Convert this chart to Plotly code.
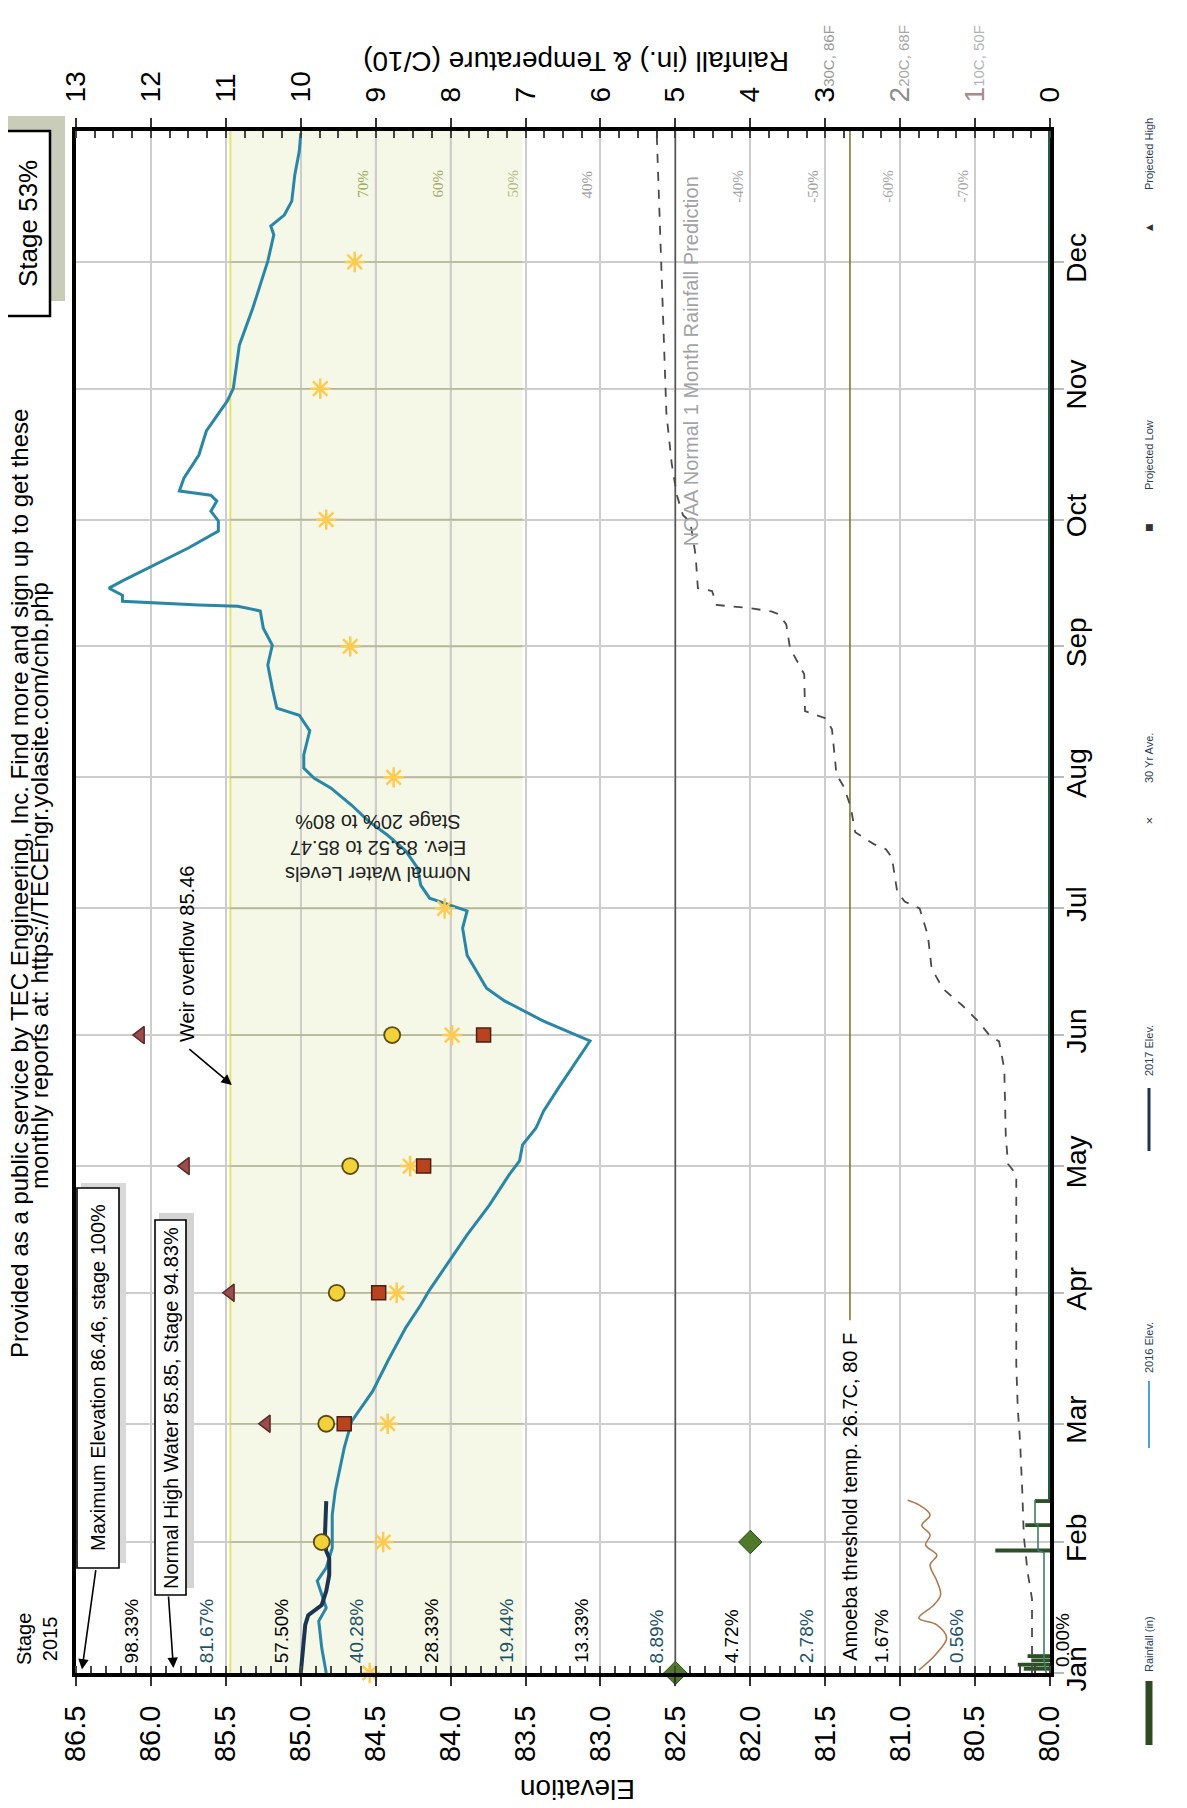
import plotly.graph_objects as go

FONT = "Liberation Sans"
W, H = 1187, 1808
# plot-area pixel box (used only for layout helpers)
PL, PR, PT, PB = 68, 1042, 123, 1665

# ---------------- data ----------------
MONTHS = ['Jan', 'Feb', 'Mar', 'Apr', 'May', 'Jun', 'Jul', 'Aug', 'Sep', 'Oct', 'Nov', 'Dec']
MONTH_START_DAY = [0, 31, 59, 90, 120, 151, 181, 212, 243, 273, 304, 334]

ELEV_TICKS = [80.0, 80.5, 81.0, 81.5, 82.0, 82.5, 83.0, 83.5, 84.0, 84.5, 85.0, 85.5, 86.0, 86.5]
STAGE_ELEV = [80.0, 80.5, 81.0, 81.5, 82.0, 82.5, 83.0, 83.5, 84.0, 84.5, 85.0, 85.5, 86.0]
STAGE_LABELS = ['0.00%', '0.56%', '1.67%', '2.78%', '4.72%', '8.89%', '13.33%', '19.44%',
                '28.33%', '40.28%', '57.50%', '81.67%', '98.33%']

RAIN_TICKS = [0, 1, 2, 3, 4, 5, 6, 7, 8, 9, 10, 11, 12, 13]
RAIN_TICK_TEXT = ['0',
                  "<span style='color:#a88a8a'>1</span><span style='font-size:15px;color:#b4b4b4'>10C, 50F</span>",
                  "<span style='color:#8c8c8c'>2</span><span style='font-size:15px;color:#a8a8a8'>20C, 68F</span>",
                  "3<span style='font-size:15px;color:#9a9a9a'>30C, 86F</span>",
                  '4', '5', '6', '7', '8', '9', '10', '11', '12', '13']
RAIN_PCT_VALUES = [9, 8, 7, 6, 4, 3, 2, 1]
RAIN_PCT_LABELS = ['70%', '60%', '50%', '40%', '-40%', '-50%', '-60%', '-70%']

# 2016 elevation (day of year, ft)
ELEV_2016_DAY = [0, 5.9, 12.3, 15.4, 21.8, 24.9, 29.6, 37.4, 43.1, 53.3, 59.6, 66.7, 73.8, 81.7,
                 87.1, 90.7, 95.9, 103.7, 110.8, 117.9, 121.2, 125.0, 129.0, 133.0, 138.5, 147.2,
                 149.6, 154.3, 159.1, 162.1, 165.2, 169.9, 176.3, 180.4, 183.4, 186.5, 190.5,
                 194.6, 198.3, 201.7, 205.4, 209.5, 211.8, 214.2, 217.3, 223.0, 226.7, 228.4,
                 233.1, 238.6, 243.3, 247.3, 251.4, 252.5, 252.8, 253.7, 255.1, 256.8, 258.5,
                 260.8, 263.9, 266.3, 270.3, 272.7, 275.0, 277.4, 278.8, 279.8, 282.8, 288.3,
                 294.0, 297.0, 301.1, 304.1, 314.3, 323.1, 329.5, 334.2, 340.4, 342.5, 345.1,
                 348.4, 354.6, 360.2, 364.5]
ELEV_2016 = [84.83, 84.86, 84.88, 84.83, 84.89, 84.83, 84.79, 84.79, 84.77, 84.71, 84.66, 84.52,
             84.42, 84.30, 84.20, 84.14, 84.04, 83.89, 83.74, 83.61, 83.54, 83.52, 83.43, 83.38,
             83.28, 83.12, 83.07, 83.38, 83.64, 83.76, 83.81, 83.89, 83.92, 83.89, 84.14, 84.20,
             84.22, 84.30, 84.42, 84.55, 84.66, 84.80, 84.91, 84.98, 84.98, 84.94, 85.01, 85.16,
             85.19, 85.22, 85.19, 85.25, 85.27, 85.42, 85.68, 86.19, 86.19, 86.28, 86.19, 86.06,
             85.88, 85.75, 85.55, 85.55, 85.60, 85.56, 85.60, 85.81, 85.78, 85.68, 85.63, 85.57,
             85.49, 85.45, 85.41, 85.32, 85.26, 85.22, 85.18, 85.20, 85.11, 85.06, 85.04, 85.01,
             85.00]

# 2017 elevation
ELEV_2017_DAY = [0, 3.5, 11.4, 13.7, 16.1, 19.4, 23.2, 27.2, 28.9, 31.2, 40.7]
ELEV_2017 = [85.00, 84.99, 84.97, 84.95, 84.86, 84.83, 84.81, 84.81, 84.83, 84.84, 84.83]

# 2017 water temperature (C/10, rain axis)
TEMP_2017_DAY = [0.7, 4.5, 8.3, 11.4, 13.0, 16.1, 18.5, 21.8, 25.6, 27.9, 30.3, 32.7, 35.0, 37.4, 39.8, 40.9]
TEMP_2017 = [1.75, 1.52, 1.38, 1.51, 1.75, 1.55, 1.46, 1.51, 1.60, 1.51, 1.66, 1.60, 1.71, 1.60, 1.75, 1.90]

# 2016 cumulative rain (rain axis)
RAIN_2016_DAY = [0, 17.5, 24.0, 32.5, 43.0, 55.0, 62.5, 73.0, 118.0, 120.5, 127.0, 143.0, 149.5, 151.0,
                 154.3, 158.0, 162.0, 166.8, 174.6, 181.0, 182.6, 185.0, 193.0, 195.0, 196.2, 199.0,
                 205.0, 209.7, 212.7, 223.4, 226.0, 227.7, 236.4, 242.6, 248.2, 250.6, 251.3, 252.1,
                 252.8, 256.1, 256.8, 264.6, 272.4, 274.1, 278.8, 286.4, 298.2, 364.9]
RAIN_2016 = [0.24, 0.24, 0.30, 0.35, 0.37, 0.40, 0.43, 0.45, 0.45, 0.56, 0.59, 0.61, 0.68, 0.81,
             0.96, 1.17, 1.43, 1.58, 1.63, 1.74, 1.94, 2.04, 2.11, 2.19, 2.35, 2.60, 2.66, 2.75,
             2.85, 2.91, 3.00, 3.27, 3.28, 3.47, 3.52, 3.62, 3.72, 4.03, 4.45, 4.51, 4.70, 4.73,
             4.80, 4.90, 4.98, 5.05, 5.12, 5.25]

# 2017 cumulative rain (rain axis)
RAIN_2017_DAY = [0, 3.0, 28.5, 29.0, 35.0, 35.5, 41.0]
RAIN_2017 = [0.05, 0.08, 0.08, 0.16, 0.16, 0.20, 0.20]
RAIN_ZERO_DAY = [41.0, 365.0]
RAIN_ZERO = [0.0, 0.0]

# daily rainfall bars (in)
RAIN_DAILY_DAY = [1.0, 2.0, 3.0, 4.0, 29.0, 35.0, 40.7]
RAIN_DAILY = [0.35, 0.43, 0.25, 0.30, 0.73, 0.33, 0.20]

# monthly markers
AVG30_DAY = [0, 31, 59, 90, 120, 151, 181, 212, 243, 273, 304, 334]
AVG30 = [84.54, 84.45, 84.42, 84.36, 84.27, 83.99, 84.04, 84.38, 84.67, 84.83, 84.87, 84.64]
PROJ_AVG_DAY = [31, 59, 90, 120, 151]
PROJ_AVG = [84.86, 84.83, 84.76, 84.67, 84.39]
PROJ_LOW_DAY = [59, 90, 120, 151]
PROJ_LOW = [84.71, 84.48, 84.18, 83.78]
PROJ_HIGH_DAY = [59, 90, 120, 151]
PROJ_HIGH = [85.23, 85.47, 85.77, 86.07]
NOAA_DAY = [0, 31]
NOAA = [5.0, 4.0]

NOAA_NORMAL_DAY = [0, 365]
NOAA_NORMAL = [5.0, 5.0]
AMOEBA_DAY = [83.5, 365]
AMOEBA = [2.67, 2.67]

BAND_LOW, BAND_HIGH = 83.52, 85.47
MAX_ELEV, NORMAL_HIGH, WEIR = 86.46, 85.85, 85.46


# ---------------- helpers (layout only) ----------------
def PX(px):
    return (px - PL) / (PR - PL)


def PY(py):
    return (PB - py) / (PB - PT)


fig = go.Figure()

fig.add_trace(go.Bar(orientation='h', x=RAIN_DAILY, y=RAIN_DAILY_DAY, xaxis='x2', yaxis='y',
                     marker=dict(color='#2d4f25', line=dict(width=0)), width=0.9, name='Rainfall (in)'))
fig.add_trace(go.Scatter(x=RAIN_ZERO, y=RAIN_ZERO_DAY, xaxis='x2', mode='lines',
                         line=dict(color='#1e5e4c', width=4), name='rain base'))
fig.add_trace(go.Scatter(x=NOAA_NORMAL, y=NOAA_NORMAL_DAY, xaxis='x2', mode='lines',
                         line=dict(color='#555555', width=1.6), name='NOAA normal'))
fig.add_trace(go.Scatter(x=AMOEBA, y=AMOEBA_DAY, xaxis='x2', mode='lines',
                         line=dict(color='#7c7a35', width=1.6), name='Amoeba'))
fig.add_trace(go.Scatter(x=RAIN_2016, y=RAIN_2016_DAY, xaxis='x2', mode='lines',
                         line=dict(color='#4a4a4a', width=1.8, dash='dash'), name='2016 Rain'))
fig.add_trace(go.Scatter(x=RAIN_2017, y=RAIN_2017_DAY, xaxis='x2', mode='lines',
                         line=dict(color='#3d8060', width=1.6), name='Ann. Rain (in*10)'))
fig.add_trace(go.Scatter(x=TEMP_2017, y=TEMP_2017_DAY, xaxis='x2', mode='lines',
                         line=dict(color='#b07a50', width=1.6, shape='spline'), name='2017 Water Temp.'))
fig.add_trace(go.Scatter(x=ELEV_2016, y=ELEV_2016_DAY, mode='lines',
                         line=dict(color='#2a86a6', width=3), name='2016 Elev.'))
fig.add_trace(go.Scatter(x=ELEV_2017, y=ELEV_2017_DAY, mode='lines',
                         line=dict(color='#1c3550', width=4), name='2017 Elev.'))
fig.add_trace(go.Scatter(x=AVG30, y=AVG30_DAY, mode='markers', cliponaxis=False,
                         marker=dict(symbol='asterisk-open', size=17, line=dict(color='#d88a1e', width=2.5)),
                         name='30 Yr Ave.'))
fig.add_trace(go.Scatter(x=PROJ_HIGH, y=PROJ_HIGH_DAY, mode='markers', cliponaxis=False,
                         marker=dict(symbol='triangle-left', size=15, color='#9c4c4c',
                                     line=dict(color='#5a2a2a', width=1.5)), name='Projected High'))
fig.add_trace(go.Scatter(x=PROJ_LOW, y=PROJ_LOW_DAY, mode='markers', cliponaxis=False,
                         marker=dict(symbol='square', size=14, color='#b8431e',
                                     line=dict(color='#4a2010', width=1.5)), name='Projected Low'))
fig.add_trace(go.Scatter(x=PROJ_AVG, y=PROJ_AVG_DAY, mode='markers', cliponaxis=False,
                         marker=dict(symbol='circle', size=16, color='#f2d23a',
                                     line=dict(color='#5a4a10', width=1.8)), name='Projected Average'))
fig.add_trace(go.Scatter(x=NOAA, y=NOAA_DAY, xaxis='x2', mode='markers', cliponaxis=False,
                         marker=dict(symbol='diamond', size=18, color='#4f7a2a',
                                     line=dict(color='#2f4a1a', width=1)), name='NOAA'))

shapes = []
# normal-level band
shapes.append(dict(type='rect', xref='x', yref='paper', x0=BAND_LOW, x1=BAND_HIGH, y0=0, y1=1,
                   fillcolor='#f5f8e7', line=dict(width=0), layer='below'))
for d in MONTH_START_DAY[1:]:
    shapes.append(dict(type='line', xref='x', yref='y', x0=BAND_LOW, x1=BAND_HIGH, y0=d, y1=d,
                       line=dict(color='#b6b994', width=1.6), layer='between'))
for e in [84.0, 84.5, 85.0]:
    shapes.append(dict(type='line', xref='x', yref='paper', x0=e, x1=e, y0=0, y1=1,
                       line=dict(color='#b0b290', width=1.6), layer='between'))
shapes.append(dict(type='line', xref='x', yref='paper', x0=BAND_HIGH, x1=BAND_HIGH, y0=0, y1=1,
                   line=dict(color='#e4e46a', width=2), layer='between'))


# boxes (pixel placed)
def rect(x0, x1, y0, y1, fill, lw=0, lc='black'):
    shapes.append(dict(type='rect', xref='paper', yref='paper', x0=PX(x0), x1=PX(x1), y0=PY(y1), y1=PY(y0),
                       fillcolor=fill, line=dict(width=lw, color=lc), layer='above'))


rect(0, 57, 108, 293, '#c8ccb8')
rect(-6, 42, 123, 308, 'white', 2.5)
rect(73, 118, 1175, 1555, '#d8d8d8')
rect(69, 111, 1180, 1560, 'white', 1.6)
rect(151, 186, 1205, 1580, '#d4d4d4')
rect(147, 178, 1212, 1587, 'white', 1.6)

annotations = []


def ann(x, y, text, size, angle=-90, color='black', xref='paper', yref='paper', family=FONT, **kw):
    d = dict(x=x, y=y, xref=xref, yref=yref, text=text, textangle=angle, showarrow=False,
             xanchor='center', yanchor='middle',
             font=dict(family=family, size=size, color=color))
    d.update(kw)
    annotations.append(d)


# title (partially off the left edge, as in the scan)
ann(PX(11), PY(876), 'Provided as a public service by TEC Engineering, Inc. Find more and sign up to get these', 24)
ann(PX(31), PY(878), 'monthly reports at: https://TECEngr.yolasite.com/cnb.php', 24)
ann(PX(20), PY(216), 'Stage 53%', 26)
ann(PX(29), PY(1631), 'Stage<br>2015', 20)
ann(PX(90), PY(1370), 'Maximum Elevation 86.46, stage 100%', 20)
ann(PX(163), PY(1400), 'Normal High Water 85.85, Stage 94.83%', 20)
ann(PX(179), PY(946), 'Weir overflow 85.46', 20)
ann(PX(370), PY(840), 'Normal Water Levels<br>Elev. 83.52 to 85.47<br>Stage 20% to 80%', 20, angle=180,
    color='#222222')
ann(AMOEBA[0], 41.7, 'Amoeba threshold temp. 26.7C, 80 F', 20, xref='x2', yref='y')
ann(4.79, 310.5, 'NOAA Normal 1 Month Rainfall Prediction', 20, color='#a2a2a2', xref='x2', yref='y')
ann(PX(570), PY(1782), 'Elevation', 28, angle=180)
ann(PX(568), PY(53), 'Rainfall (in.) &amp; Temperature (C/10)', 28, angle=180)


# arrows
def arrow(x, y, ax, ay, xref='x', yref='y'):
    annotations.append(dict(x=x, y=y, xref=xref, yref=yref, ax=ax, ay=ay, text='', showarrow=True,
                            arrowhead=2, arrowsize=1.3, arrowwidth=1.6, arrowcolor='black'))


arrow(MAX_ELEV, 0.8, 14, -101)
arrow(NORMAL_HIGH, 1.2, -5, -73)
arrow(WEIR, 139.2, -44, -37)

# stage labels along Jan side
stage_colors = ['black', '#1f5468']
for i, (e, lab) in enumerate(zip(STAGE_ELEV, STAGE_LABELS)):
    xs, ys = (12, 4) if e == 80.0 else (-19, 8)
    ann(e, 0, lab, 19, color=stage_colors[i % 2], xref='x', yref='y', yanchor='bottom',
        xshift=xs, yshift=ys)

# rain percentage labels near Dec side
pct_colors = ['#9aaa5a', '#a4ab6c', '#b9bb88', '#a0a0a0', '#a6a6a6', '#a0a0a0', '#a8a8a8', '#a8a8a8']
for v, lab, c in zip(RAIN_PCT_VALUES, RAIN_PCT_LABELS, pct_colors):
    ann(v, 365, lab, 15, color=c, xref='x2', yref='y', yanchor='top',
        xshift=-13, yshift=-37, family='Liberation Serif')

# ---------------- legend (drawn manually, rotated) ----------------
LEG_TXT = '#2b3d55'
leg_items_a = [('Rainfall (in)', 1636), ('2016 Elev.', 1340), ('2017 Elev.', 1043), ('30 Yr Ave.', 750),
               ('Projected Low', 447), ('Projected High', 146)]
leg_items_b = [('Projected Average', 1612), ('2016 Water Temp.', 1318), ('2017 Water Temp.', 1021),
               ('2016 Rain', 750), ('Ann. Rain (in*10)', 448), ('NOAA', 166)]
for t, yc in leg_items_a:
    ann(PX(1141), PY(yc), t, 11, color=LEG_TXT)
for t, yc in leg_items_b:
    ann(PX(1178), PY(yc), t, 11, color=LEG_TXT)


def lseg(xp, y0, y1, color, width, dash='solid'):
    shapes.append(dict(type='line', xref='paper', yref='paper', x0=PX(xp), x1=PX(xp), y0=PY(y0), y1=PY(y1),
                       line=dict(color=color, width=width, dash=dash), layer='above'))


lseg(1141, 1673, 1737, '#2d4a22', 7)
lseg(1141, 1373, 1440, '#4aa3d8', 2)
lseg(1141, 1080, 1143, '#1c3550', 3)
lseg(1178, 1373, 1440, '#d09060', 1.5)
lseg(1178, 1080, 1140, '#a07040', 2)
lseg(1178, 780, 843, '#333333', 1.5, 'dash')
lseg(1178, 492, 552, '#333333', 1.5)
ann(PX(1141), PY(813), '×', 12, angle=0, color='#333')
ann(PX(1141), PY(519), '■', 9, angle=0, color='#333', family='DejaVu Sans')
ann(PX(1141), PY(219), '◀', 9, angle=0, color='#333', family='DejaVu Sans')
ann(PX(1178), PY(1705), '○', 11, angle=0, color='#333', family='DejaVu Sans')
ann(PX(1178), PY(219), '●', 8, angle=0, color='#555', family='DejaVu Sans')

fig.update_layout(
    width=W, height=H, autosize=False,
    margin=dict(l=PL, r=W - PR, t=PT, b=H - PB, pad=0),
    paper_bgcolor='white', plot_bgcolor='white',
    showlegend=False, barmode='overlay',
    font=dict(family=FONT, color='black'),
    shapes=shapes, annotations=annotations,
    xaxis=dict(range=[86.5, 80.0], tickvals=ELEV_TICKS, ticktext=[f'{v:.1f}' for v in ELEV_TICKS],
               tickangle=-90, tickfont=dict(size=29, family=FONT, color='black'),
               ticks='outside', ticklen=9, tickwidth=2, tickcolor='#333', ticklabelstandoff=8,
               showline=True, linewidth=4, linecolor='black', showgrid=True, gridcolor='#cdcdcd',
               gridwidth=1.5, zeroline=False, automargin=False,
               minor=dict(tick0=80, dtick=0.1, ticks='inside', ticklen=7, tickwidth=1.5,
                          tickcolor='#444', showgrid=False)),
    xaxis2=dict(range=[13, 0], overlaying='x', side='top', anchor='y', tickvals=RAIN_TICKS,
                ticktext=RAIN_TICK_TEXT, tickangle=-90, tickfont=dict(size=28, family=FONT, color='black'),
                ticks='outside', ticklen=9, tickwidth=2, tickcolor='#333', ticklabelstandoff=10,
                showline=True, linewidth=4, linecolor='black', showgrid=False, zeroline=False,
                automargin=False,
                minor=dict(tick0=0, dtick=0.25, ticks='inside', ticklen=7, tickwidth=1.5,
                           tickcolor='#444', showgrid=False)),
    yaxis=dict(range=[0, 365], side='right', tickvals=MONTH_START_DAY, ticktext=MONTHS, tickangle=-90,
               tickfont=dict(size=28, family=FONT, color='black'), ticks='outside', ticklen=10,
               tickwidth=1.5, tickcolor='#bbbbbb', ticklabelstandoff=-12,
               showline=True, linewidth=4, linecolor='black', mirror=True,
               showgrid=True, gridcolor='#cdcdcd', gridwidth=1.5, zeroline=False, automargin=False),
)

fig.write_html('out.html')
